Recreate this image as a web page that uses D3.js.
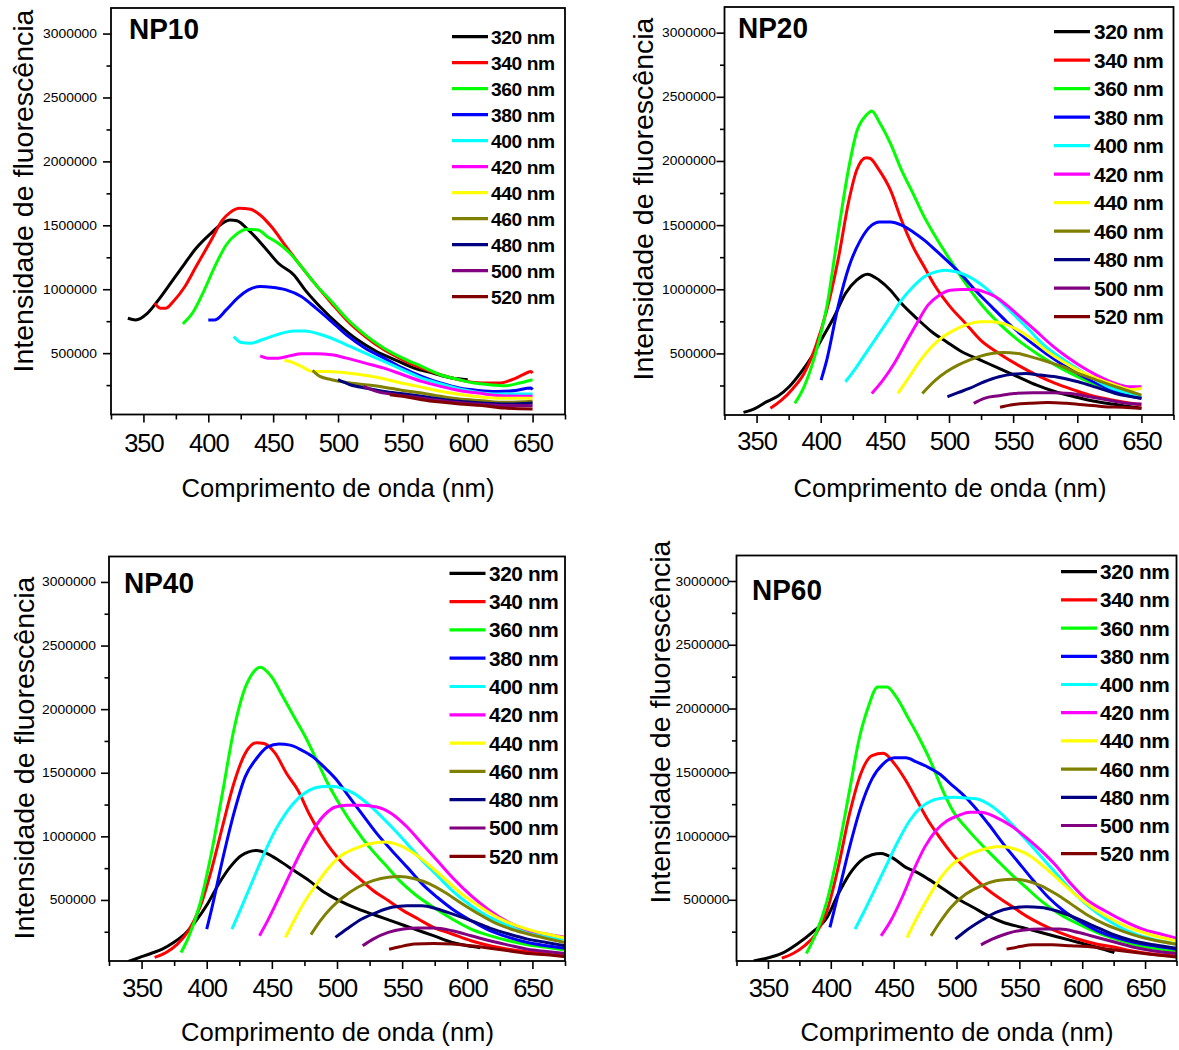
<!DOCTYPE html>
<html>
<head>
<meta charset="utf-8">
<script src="https://cdn.jsdelivr.net/npm/d3@7"></script>
<style>
  body { margin: 0; background: #fff; }
  svg { display: block; font-family: Arial, "Liberation Sans", sans-serif; }
</style>
</head>
<body>
<svg id="fig" width="1179" height="1050"></svg>
<script>
// Excitation wavelengths (legend entries) and their line colours
const excitation = [320, 340, 360, 380, 400, 420, 440, 460, 480, 500, 520];
const lineColors = ["#000000", "#ff0000", "#00ff00", "#0000ff", "#00ffff", "#ff00ff",
                    "#ffff00", "#808000", "#000080", "#800080", "#800000"];
const panelNames = ["NP10", "NP20", "NP40", "NP60"];
const xTickValues = [350, 400, 450, 500, 550, 600, 650];
const xMinorValues = [325, 375, 425, 475, 525, 575, 625, 675];
const yTickValues = [500000, 1000000, 1500000, 2000000, 2500000, 3000000];
const yMinorValues = [250000, 750000, 1250000, 1750000, 2250000, 2750000];
const xDomain = [325, 675];
const yDomain = [20000, 3200000];

// Emission spectra: [wavelength (nm), intensity], one list per excitation wavelength
const np10 = [
  [[338,773000],[344,760000],[353,812000],[361.6,917000],[370,1034000],[382,1203000],[390.6,1320000],[402,1437000],[411,1516000],[416.7,1542000],[422,1536000],[431,1463000],[443,1333000],[454,1203000],[466,1112000],[474.6,995000],[486,865000],[500.7,721000],[515,604000],[529.7,513000],[544,448000],[558.7,383000],[573,344000],[587.7,305000],[600,292000]],
  [[358.7,891000],[363,852000],[367.4,852000],[373,904000],[382,1021000],[390.6,1177000],[402,1380000],[411,1542000],[416.7,1599000],[424,1633000],[432.6,1625000],[440,1581000],[448.6,1490000],[460,1333000],[471.7,1177000],[483,1034000],[495,891000],[506.5,760000],[521,630000],[535.5,526000],[550,448000],[564.5,383000],[579,331000],[593.5,292000],[605,271000],[616.7,266000],[625.4,266000],[634,292000],[642.7,331000],[648.6,357000],[650,344000]],
  [[380.4,729000],[387.7,812000],[396.4,982000],[405,1177000],[413.8,1346000],[422.5,1437000],[429.7,1469000],[438.4,1463000],[445.6,1411000],[454,1359000],[463,1281000],[471.7,1177000],[483,1034000],[495,904000],[506.5,773000],[521,643000],[535.5,539000],[550,461000],[564.5,396000],[579,331000],[593.5,292000],[605,266000],[616.7,253000],[628.4,245000],[640,266000],[650,292000]],
  [[400,760000],[405,760000],[413.8,838000],[422.5,930000],[431,995000],[440,1021000],[448.6,1016000],[460,995000],[471.7,943000],[483,852000],[495,747000],[506.5,643000],[521,539000],[535.5,461000],[550,383000],[564.5,318000],[579,266000],[593.5,227000],[608,208000],[622.6,200000],[637,208000],[648.6,227000],[650,214000]],
  [[419.6,630000],[425.4,583000],[432.6,578000],[442.7,609000],[454,648000],[466,674000],[474.6,674000],[486,648000],[498,604000],[509.4,552000],[521,500000],[535.5,435000],[550,370000],[564.5,305000],[579,261000],[593.5,219000],[608,193000],[625.4,180000],[650,180000]],
  [[440,479000],[445.6,461000],[454,461000],[463,479000],[471.7,495000],[483,495000],[495,487000],[506.5,461000],[521,422000],[535.5,383000],[550,331000],[564.5,279000],[579,240000],[593.5,208000],[608,188000],[625.4,167000],[650,162000]],
  [[458.7,443000],[463,435000],[471.7,396000],[480.4,357000],[492,357000],[503.6,349000],[518,331000],[532.6,305000],[547,271000],[561.6,240000],[576,208000],[590.6,182000],[605,162000],[622.6,148000],[650,148000]],
  [[480.4,365000],[486,318000],[495,292000],[506.5,271000],[521,253000],[535.5,234000],[550,208000],[564.5,188000],[579,162000],[593.5,141000],[611,128000],[628.4,115000],[650,123000]],
  [[500,292000],[509.4,253000],[521,227000],[535.5,201000],[550,182000],[564.5,162000],[579,141000],[593.5,123000],[611,110000],[628.4,102000],[650,110000]],
  [[519.6,240000],[529.7,201000],[544,175000],[558.7,156000],[573,136000],[587.7,117000],[605,104000],[625.4,91000],[650,89000]],
  [[540,175000],[550,162000],[564.5,136000],[579,117000],[593.5,102000],[611,91000],[628.4,70000],[650,63000]]
];

const np20 = [
  [[339.8,40000],[349,72000],[358,124000],[366.7,168000],[375.4,240000],[384,344000],[393,474000],[401.8,630000],[410.5,786000],[419.3,967000],[428,1071000],[436.3,1118000],[445.6,1071000],[454.4,993000],[463,889000],[474.9,773000],[486.5,669000],[498,591000],[510,513000],[524.6,448000],[539,383000],[553.8,318000],[568.4,253000],[583,201000],[597.7,162000],[612.3,129000],[627,105000],[641.5,85000],[650,72000]],
  [[360.8,72000],[369.6,137000],[378.4,227000],[387,344000],[396,552000],[404.7,837000],[413.5,1227000],[422,1694000],[428,1928000],[435.4,2026000],[438.3,2021000],[445.6,1928000],[454.4,1772000],[463,1538000],[472,1331000],[480.7,1175000],[489.5,1019000],[501,863000],[512.9,734000],[524.6,604000],[539,500000],[553.8,409000],[568.4,331000],[583,266000],[597.7,214000],[612.3,168000],[627,137000],[641.5,111000],[650,98000]],
  [[379.8,111000],[387,240000],[396,500000],[404.7,863000],[413.5,1435000],[422,1954000],[428,2226000],[435.4,2356000],[439.8,2390000],[445.6,2304000],[454.4,2135000],[463,1928000],[472,1746000],[480.7,1564000],[489.5,1409000],[501,1227000],[512.9,1045000],[524.6,889000],[539,734000],[553.8,604000],[568.4,500000],[583,409000],[597.7,331000],[612.3,266000],[627,214000],[641.5,175000],[650,150000]],
  [[400.3,292000],[404.7,448000],[413.5,863000],[422,1175000],[431,1383000],[439.8,1500000],[445.6,1525000],[454.4,1525000],[463,1500000],[472,1447000],[480.7,1383000],[489.5,1305000],[498,1227000],[510,1110000],[521.6,980000],[533.3,863000],[545,747000],[556.7,643000],[568.4,552000],[583,448000],[597.7,357000],[612.3,279000],[627,214000],[641.5,168000],[650,150000]],
  [[419.3,279000],[428,396000],[436.8,526000],[445.6,656000],[454.4,786000],[463,915000],[472,1019000],[480.7,1097000],[489.5,1136000],[496.8,1149000],[505.5,1136000],[515.8,1097000],[527.5,1019000],[539,915000],[550.9,799000],[562.6,682000],[574,565000],[586,474000],[597.7,396000],[612.3,305000],[627,227000],[641.5,188000],[650,162000]],
  [[439.8,188000],[448.5,292000],[457.3,422000],[466,578000],[474.9,734000],[483.6,876000],[492.4,954000],[501,993000],[510,998000],[518.7,998000],[527.5,980000],[536.3,941000],[545,876000],[556.7,773000],[568.4,669000],[580,565000],[591.8,474000],[603.5,396000],[615,331000],[629.8,266000],[641.5,240000],[650,240000]],
  [[460.2,188000],[469,318000],[477.8,448000],[486.5,552000],[495.3,630000],[504,682000],[512.9,721000],[524.6,747000],[533.3,747000],[542,734000],[553.8,682000],[565.5,604000],[577,513000],[589,435000],[600.6,370000],[615,305000],[629.8,253000],[641.5,219000],[650,227000]],
  [[479.2,188000],[489.5,292000],[498,357000],[507,409000],[515.8,448000],[524.6,479000],[533.3,500000],[542,508000],[553.8,500000],[565.5,469000],[577,435000],[589,396000],[600.6,344000],[615,292000],[629.8,240000],[650,175000]],
  [[498.8,162000],[507,194000],[515.8,227000],[527.5,279000],[539,318000],[550.9,339000],[559.7,344000],[571,331000],[586,313000],[600.6,279000],[615,235000],[629.8,188000],[650,150000]],
  [[519.3,111000],[527.5,150000],[539,170000],[550.9,188000],[565.5,194000],[580,194000],[594.7,188000],[609.4,162000],[624,137000],[638.6,111000],[650,105000]],
  [[539.8,80000],[548,98000],[562.6,111000],[577,118000],[591.8,111000],[606.5,98000],[621,85000],[635.7,80000],[650,72000]]
];

const np40 = [
  [[339.9,16000],[348.6,48000],[357.2,79000],[365.9,114000],[374.6,166000],[383.2,232000],[391.9,337000],[400.6,468000],[409.2,626000],[417.9,758000],[426.6,850000],[438.2,889000],[446.8,863000],[455.5,810000],[467,731000],[478.6,652000],[490.2,560000],[501.7,495000],[516,429000],[530.6,376000],[545,324000],[559.5,271000],[574,219000],[588.4,166000],[600,140000],[610,125000]],
  [[360,48000],[368.8,87000],[377.5,153000],[386,258000],[394.8,442000],[403.5,731000],[412,1073000],[420.8,1415000],[429.5,1652000],[438.2,1736000],[444,1730000],[452.6,1652000],[461.3,1494000],[470,1362000],[478.6,1178000],[487.3,1021000],[496,889000],[504.6,784000],[516,679000],[527.7,574000],[539.3,495000],[550.9,416000],[562.4,350000],[574,284000],[588.4,232000],[602.9,179000],[617.3,140000],[631.8,113000],[646.3,92000],[660.7,74000],[675,61000]],
  [[380.3,87000],[386,206000],[394.8,468000],[403.5,863000],[412,1336000],[420.8,1836000],[428,2125000],[435.3,2283000],[441,2330000],[449.7,2256000],[458.4,2099000],[467,1941000],[475.7,1783000],[484.4,1599000],[493,1415000],[501.7,1257000],[513.3,1073000],[524.9,915000],[536.4,784000],[548,652000],[559.5,547000],[574,442000],[588.4,350000],[602.9,271000],[617.3,219000],[631.8,179000],[646.3,148000],[660.7,127000],[675,106000]],
  [[400,271000],[403.5,416000],[412,810000],[420.8,1178000],[429.5,1467000],[438.2,1612000],[446.8,1704000],[455.5,1725000],[464,1717000],[472.8,1678000],[481.5,1625000],[490,1546000],[498.8,1454000],[507.5,1336000],[519,1178000],[530.6,1021000],[542,889000],[553.8,758000],[565.3,626000],[576.9,521000],[588.4,429000],[602.9,337000],[617.3,258000],[631.8,206000],[646.3,166000],[660.7,140000],[675,121000]],
  [[419.4,271000],[426.6,442000],[435.3,652000],[444,863000],[452.6,1047000],[461.3,1191000],[470,1297000],[478.6,1362000],[487.3,1389000],[496,1394000],[504.6,1375000],[513.3,1336000],[522,1270000],[530.6,1191000],[542,1073000],[553.8,942000],[565.3,810000],[576.9,692000],[588.4,574000],[602.9,455000],[617.3,363000],[631.8,298000],[646.3,245000],[660.7,211000],[675,192000]],
  [[440.5,219000],[446.8,337000],[455.5,521000],[464,705000],[472.8,889000],[481.5,1047000],[490,1165000],[498.8,1231000],[507.5,1244000],[519,1244000],[530.6,1231000],[542,1178000],[553.8,1073000],[565.3,942000],[576.9,810000],[588.4,679000],[602.9,534000],[617.3,416000],[631.8,324000],[646.3,263000],[660.7,232000],[675,206000]],
  [[460.4,206000],[467,337000],[475.7,495000],[484.4,626000],[493,745000],[501.7,837000],[513.3,902000],[524.9,942000],[536.4,955000],[548,929000],[559.5,863000],[571,771000],[582.7,666000],[594.2,560000],[608.7,455000],[623,363000],[637.6,298000],[652,253000],[663.6,227000],[675,200000]],
  [[480,227000],[487.3,337000],[496,442000],[504.6,521000],[516,600000],[527.7,652000],[539.3,679000],[548,684000],[559.5,666000],[571,626000],[582.7,560000],[594.2,482000],[608.7,390000],[623,311000],[637.6,258000],[652,219000],[675,166000]],
  [[498.8,206000],[507.5,271000],[519,350000],[530.6,403000],[542,442000],[553.8,455000],[565.3,455000],[576.9,429000],[588.4,390000],[602.9,337000],[617.3,279000],[631.8,232000],[646.3,192000],[660.7,166000],[675,140000]],
  [[519.7,140000],[527.7,192000],[539.3,245000],[550.9,271000],[562.4,279000],[574,279000],[588.4,258000],[602.9,219000],[617.3,179000],[631.8,145000],[646.3,113000],[660.7,95000],[675,79000]],
  [[540,113000],[548,132000],[559.5,153000],[574,158000],[588.4,153000],[602.9,140000],[617.3,121000],[631.8,100000],[646.3,79000],[660.7,69000],[675,53000]]
];

const np60 = [
  [[338.6,21000],[349,42000],[361,79000],[373,152000],[385,243000],[397,361000],[405.9,545000],[414.9,702000],[423.8,806000],[432.8,853000],[440,864000],[450.7,819000],[459.7,754000],[468.6,715000],[477.6,662000],[489.6,584000],[501.5,505000],[513.5,440000],[525.4,374000],[537.4,322000],[552.3,283000],[567.3,243000],[582.2,204000],[597.2,165000],[612,126000],[625.6,86000]],
  [[361,42000],[370,79000],[379,139000],[388,230000],[397,414000],[405.9,754000],[414.9,1173000],[423.8,1487000],[432.8,1631000],[441.7,1649000],[450.7,1566000],[459.7,1435000],[468.6,1278000],[477.6,1120000],[486.6,990000],[495.5,872000],[507.5,741000],[519.5,623000],[531.4,531000],[543.4,453000],[555.3,374000],[567.3,309000],[582.2,243000],[597.2,191000],[612,152000],[627,126000],[642,94000],[657,73000],[675,60000]],
  [[380.5,79000],[388,230000],[397,492000],[405.9,885000],[414.9,1356000],[422.3,1749000],[429.8,2011000],[437.3,2168000],[444.7,2168000],[452.2,2089000],[461.2,1932000],[470,1775000],[479.1,1592000],[488,1382000],[497,1199000],[507.5,1068000],[519.5,937000],[531.4,819000],[543.4,702000],[555.3,597000],[567.3,492000],[582.2,387000],[597.2,309000],[612,243000],[627,191000],[642,147000],[657,120000],[675,99000]],
  [[399.3,283000],[405.9,545000],[414.9,911000],[423.8,1225000],[432.8,1448000],[441.7,1566000],[450.7,1613000],[459.7,1613000],[468.6,1579000],[477.6,1539000],[486.6,1487000],[495.5,1408000],[504.5,1330000],[513.5,1238000],[525.4,1094000],[537.4,937000],[549.3,793000],[561.3,649000],[573.2,518000],[585.2,414000],[597.2,335000],[612,257000],[627,204000],[642,165000],[657,139000],[675,113000]],
  [[419.3,270000],[426.8,414000],[435.8,597000],[444.7,780000],[453.7,963000],[462.7,1120000],[471.6,1225000],[480.6,1278000],[489.6,1298000],[498.5,1304000],[507.5,1298000],[516.5,1291000],[525.4,1251000],[534.4,1186000],[546.3,1068000],[558.3,937000],[570.2,806000],[582.2,675000],[594.2,545000],[606,440000],[621,335000],[636,257000],[651,204000],[675,152000]],
  [[440,217000],[447.7,335000],[456.7,518000],[465.7,728000],[474.6,911000],[483.6,1042000],[492.5,1120000],[501.5,1160000],[510.5,1186000],[519.5,1186000],[531.4,1147000],[543.4,1081000],[555.3,990000],[567.3,885000],[579.2,767000],[591.2,623000],[603,505000],[618,414000],[633,335000],[648,270000],[663,230000],[675,199000]],
  [[460.6,204000],[468.6,361000],[477.6,518000],[486.6,662000],[495.5,767000],[507.5,846000],[519.5,890000],[531.4,916000],[537.4,916000],[546.3,898000],[558.3,846000],[570.2,754000],[582.2,649000],[594.2,545000],[606,453000],[621,361000],[636,288000],[651,236000],[675,178000]],
  [[479.7,217000],[486.6,322000],[495.5,440000],[507.5,545000],[519.5,610000],[531.4,649000],[543.4,662000],[555.3,649000],[567.3,610000],[579.2,545000],[591.2,466000],[603,387000],[618,309000],[633,251000],[648,204000],[675,152000]],
  [[499.1,191000],[507.5,257000],[519.5,335000],[531.4,401000],[543.4,435000],[555.3,445000],[567.3,440000],[579.2,414000],[594.2,361000],[609,296000],[624,230000],[639,183000],[657,147000],[675,120000]],
  [[519.5,147000],[528.4,191000],[540.4,236000],[552.3,262000],[567.3,270000],[582.2,270000],[597.2,243000],[612,204000],[627,165000],[642,126000],[657,99000],[675,79000]],
  [[539.8,113000],[549.3,131000],[561.3,147000],[576.2,147000],[591.2,139000],[606,131000],[621,113000],[636,94000],[654,73000],[675,52000]]
];

const panelData = [np10, np20, np40, np60];

// Page geometry of the four panels
const layout = [
  { left: 111, right: 565, top: 8, bottom: 414.5,
    title: [129, 39], legend: { x0: 452, x1: 488, tx: 491, y0: 36.7, dy: 26, size: 19.2 },
    yTitle: [33, 191], xTitle: [338, 497], xTickBase: 451.5, yLabelGap: 14 },
  { left: 724.5, right: 1173.5, top: 7, bottom: 415,
    title: [738, 38.3], legend: { x0: 1054, x1: 1090, tx: 1094, y0: 31.7, dy: 28.5, size: 20.8 },
    yTitle: [653, 199], xTitle: [950, 497], xTickBase: 450, yLabelGap: 8.5 },
  { left: 109, right: 565, top: 556.5, bottom: 961,
    title: [124, 593.3], legend: { x0: 449.5, x1: 485.5, tx: 489, y0: 573.3, dy: 28.3, size: 20.8 },
    yTitle: [34, 758], xTitle: [337.5, 1041], xTickBase: 996.5, yLabelGap: 13 },
  { left: 736.5, right: 1176.5, top: 555.5, bottom: 961,
    title: [752, 600], legend: { x0: 1061, x1: 1097, tx: 1100, y0: 571.7, dy: 28.2, size: 20.8 },
    yTitle: [670, 722], xTitle: [957, 1041], xTickBase: 996.5, yLabelGap: 7 }
];

const svg = d3.select("#fig");

panelData.forEach((series, i) => {
  const L = layout[i];
  const x = d3.scaleLinear().domain(xDomain).range([L.left, L.right]);
  const y = d3.scaleLinear().domain(yDomain).range([L.bottom, L.top]);
  const g = svg.append("g");

  const clipId = "clip" + i;
  g.append("clipPath").attr("id", clipId).append("rect")
    .attr("x", L.left).attr("y", L.top)
    .attr("width", L.right - L.left).attr("height", L.bottom - L.top);

  // spectra
  const line = d3.line().x(d => x(d[0])).y(d => y(d[1])).curve(d3.curveMonotoneX);
  const curves = g.append("g").attr("clip-path", `url(#${clipId})`);
  series.forEach((s, k) => {
    curves.append("path").datum(s)
      .attr("d", line)
      .attr("fill", "none")
      .attr("stroke", lineColors[k])
      .attr("stroke-width", 3)
      .attr("stroke-linejoin", "round");
  });

  // bottom axis: major + minor ticks
  const xAxis = g.append("g").attr("transform", `translate(0,${L.bottom})`)
    .call(d3.axisBottom(x).tickValues(xTickValues).tickSize(8).tickSizeOuter(0));
  xAxis.select(".domain").remove();
  xAxis.selectAll("line").attr("stroke", "#000").attr("stroke-width", 1.6);
  xAxis.selectAll("text")
    .attr("y", L.xTickBase - L.bottom).attr("dy", null)
    .attr("fill", "#000")
    .style("font-size", "25.5px").style("letter-spacing", "-1px")
    .style("font-family", "Arial, 'Liberation Sans', sans-serif");
  const xMinor = g.append("g").attr("transform", `translate(0,${L.bottom})`)
    .call(d3.axisBottom(x).tickValues(xMinorValues).tickSize(5).tickSizeOuter(0).tickFormat(""));
  xMinor.select(".domain").remove();
  xMinor.selectAll("line").attr("stroke", "#000").attr("stroke-width", 1.6);

  // left axis: major + minor ticks
  const yAxis = g.append("g").attr("transform", `translate(${L.left},0)`)
    .call(d3.axisLeft(y).tickValues(yTickValues).tickSize(8).tickSizeOuter(0).tickFormat(d3.format("d")));
  yAxis.select(".domain").remove();
  yAxis.selectAll("line").attr("stroke", "#000").attr("stroke-width", 1.6);
  yAxis.selectAll("text")
    .attr("x", -L.yLabelGap)
    .attr("fill", "#000")
    .style("font-size", "12.5px")
    .style("font-family", "Arial, 'Liberation Sans', sans-serif")
    .attr("textLength", d => String(d).length * 7.7)
    .attr("lengthAdjust", "spacingAndGlyphs");
  const yMinor = g.append("g").attr("transform", `translate(${L.left},0)`)
    .call(d3.axisLeft(y).tickValues(yMinorValues).tickSize(4.5).tickSizeOuter(0).tickFormat(""));
  yMinor.select(".domain").remove();
  yMinor.selectAll("line").attr("stroke", "#000").attr("stroke-width", 1.6);

  // frame
  g.append("rect")
    .attr("x", L.left).attr("y", L.top)
    .attr("width", L.right - L.left).attr("height", L.bottom - L.top)
    .attr("fill", "none").attr("stroke", "#000").attr("stroke-width", 1.8);

  // panel title
  g.append("text")
    .attr("x", L.title[0]).attr("y", L.title[1])
    .attr("font-weight", "bold").attr("font-size", 29.5)
    .attr("textLength", 70).attr("lengthAdjust", "spacingAndGlyphs")
    .text(panelNames[i]);

  // legend
  const lg = L.legend;
  excitation.forEach((ex, k) => {
    const ly = lg.y0 + k * lg.dy;
    g.append("line")
      .attr("x1", lg.x0).attr("x2", lg.x1).attr("y1", ly).attr("y2", ly)
      .attr("stroke", lineColors[k]).attr("stroke-width", 3.2);
    g.append("text")
      .attr("x", lg.tx).attr("y", ly).attr("dy", "0.36em")
      .attr("font-weight", "bold").attr("font-size", lg.size)
      .style("letter-spacing", "-0.4px")
      .text(ex + " nm");
  });

  // axis titles
  g.append("text")
    .attr("transform", `translate(${L.yTitle[0]},${L.yTitle[1]}) rotate(-90)`)
    .attr("text-anchor", "middle").attr("font-size", 28.5)
    .text("Intensidade de fluorescência");
  g.append("text")
    .attr("x", L.xTitle[0]).attr("y", L.xTitle[1])
    .attr("text-anchor", "middle").attr("font-size", 25.6)
    .text("Comprimento de onda (nm)");
});
</script>
</body>
</html>
